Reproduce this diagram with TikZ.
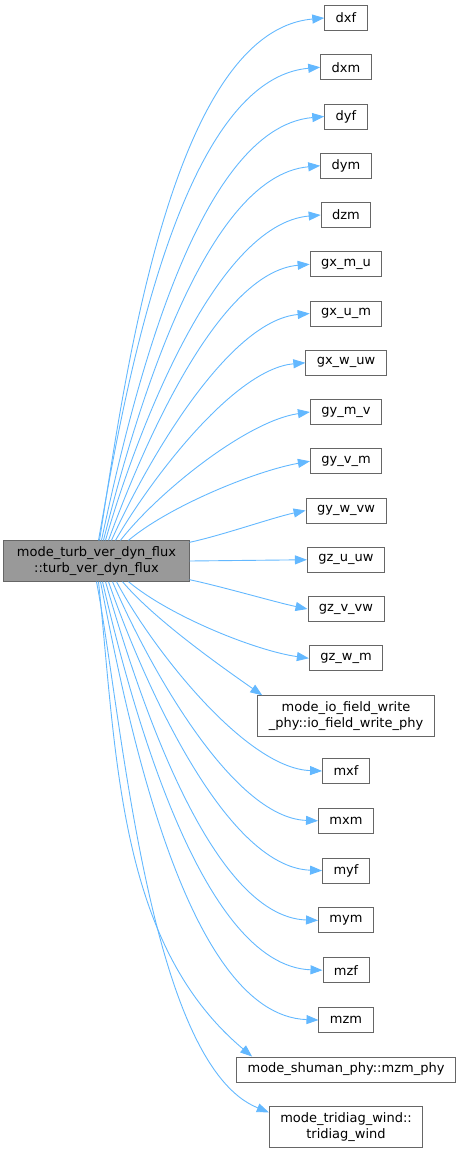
\documentclass[tikz,border=0pt]{standalone}
\usepackage{fontspec}
\setmainfont{DejaVu Sans}
\usetikzlibrary{arrows.meta}
\definecolor{edgeblue}{HTML}{63B8FF}
\definecolor{nodegrey}{HTML}{999999}
\definecolor{linegrey}{HTML}{666666}

\begin{document}
\begin{tikzpicture}[x=1pt,y=1pt,>={Triangle[length=12pt,width=9pt]},
  box/.style={draw=linegrey,fill=white,line width=0.9pt,align=center,
  font=\fontsize{13}{15.5}\selectfont,inner xsep=11pt,inner ysep=6pt,
  minimum height=25pt},
  edge/.style={->,edgeblue,line width=0.9pt,looseness=0.7}]
\useasboundingbox (0,0) rectangle (461,-1153);
\node[box,fill=nodegrey,inner xsep=13pt] (main) at (96.5,-561) {mode\_turb\_ver\_dyn\_flux\\::turb\_ver\_dyn\_flux};
\node[box] (dxf) at (346,-18) {dxf};
\node[box] (dxm) at (346,-67.25) {dxm};
\node[box] (dyf) at (346,-116.5) {dyf};
\node[box] (dym) at (346,-165.75) {dym};
\node[box] (dzm) at (346,-215) {dzm};
\node[box] (gxmu) at (346,-264.25) {gx\_m\_u};
\node[box] (gxum) at (346,-313.5) {gx\_u\_m};
\node[box] (gxwuw) at (346,-362.75) {gx\_w\_uw};
\node[box] (gymv) at (346,-412) {gy\_m\_v};
\node[box] (gyvm) at (346,-461.25) {gy\_v\_m};
\node[box] (gywvw) at (346,-510.5) {gy\_w\_vw};
\node[box] (gzuuw) at (346,-559.75) {gz\_u\_uw};
\node[box] (gzvvw) at (346,-609) {gz\_v\_vw};
\node[box] (gzwm) at (346,-658.25) {gz\_w\_m};
\node[box] (iofield) at (346,-716) {mode\_io\_field\_write\\\_phy::io\_field\_write\_phy};
\node[box] (mxf) at (346,-771) {mxf};
\node[box] (mxm) at (346,-820.8) {mxm};
\node[box] (myf) at (346,-870.6) {myf};
\node[box] (mym) at (346,-920.4) {mym};
\node[box] (mzf) at (346,-970.2) {mzf};
\node[box] (mzm) at (346,-1020) {mzm};
\node[box] (mzmphy) at (346,-1069.5) {mode\_shuman\_phy::mzm\_phy};
\node[box] (tridiag) at (346,-1127) {mode\_tridiag\_wind::\\tridiag\_wind};
% calls above the caller
\draw[edge] ([xshift=3pt]main.north) to[out=81,in=185] (dxf.west);
\draw[edge] ([xshift=2pt]main.north) to[out=80,in=185] (dxm.west);
\draw[edge] ([xshift=5pt]main.north) to[out=78,in=185] (dyf.west);
\draw[edge] ([xshift=7pt]main.north) to[out=76,in=185] (dym.west);
\draw[edge] ([xshift=9pt]main.north) to[out=74,in=185] (dzm.west);
\draw[edge] ([xshift=12pt]main.north) to[out=70,in=185] (gxmu.west);
\draw[edge] ([xshift=15pt]main.north) to[out=66,in=185] (gxum.west);
\draw[edge] ([xshift=19pt]main.north) to[out=60,in=185] (gxwuw.west);
\draw[edge] ([xshift=24pt]main.north) to[out=52,in=188] (gymv.west);
\draw[edge] ([xshift=32pt]main.north) to[out=40,in=190] (gyvm.west);
\draw[edge] ([yshift=-2pt]main.north east) to[out=12,in=192] (gywvw.west);
\draw[edge] (main.east) -- (gzuuw.west);
% calls below the caller
\draw[edge] ([yshift=2pt]main.south east) to[out=-12,in=168] (gzvvw.west);
\draw[edge] ([xshift=32pt]main.south) to[out=-40,in=172] (gzwm.west);
\draw[edge] ([xshift=26pt]main.south) to[out=-50,in=145] ([xshift=5pt]iofield.north west);
\draw[edge] ([xshift=20pt]main.south) to[out=-62,in=178] (mxf.west);
\draw[edge] ([xshift=16pt]main.south) to[out=-67,in=178] (mxm.west);
\draw[edge] ([xshift=12pt]main.south) to[out=-71,in=178] (myf.west);
\draw[edge] ([xshift=9pt]main.south) to[out=-74,in=178] (mym.west);
\draw[edge] ([xshift=6pt]main.south) to[out=-77,in=178] (mzf.west);
\draw[edge] ([xshift=4pt]main.south) to[out=-79,in=178] (mzm.west);
\draw[edge] ([xshift=2pt]main.south) to[out=-84,in=140,looseness=0.9] ([xshift=16pt]mzmphy.north west);
\draw[edge] (main.south) to[out=-79,in=158,looseness=0.6] ([yshift=-6pt]tridiag.north west);
\end{tikzpicture}
\end{document}
